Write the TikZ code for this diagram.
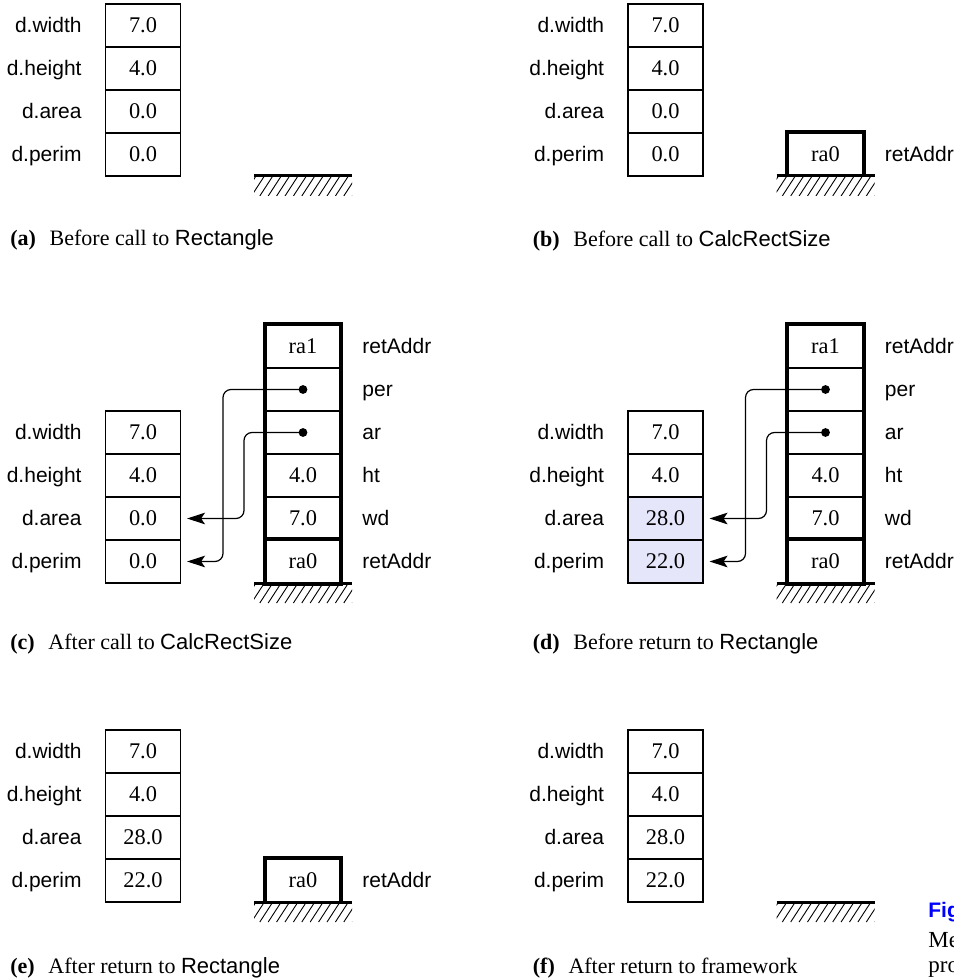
\documentclass[tikz,border=0pt]{standalone}
\usepackage{fontspec}
\setmainfont{Liberation Serif}
\setsansfont{Liberation Sans}
\usetikzlibrary{arrows.meta,calc}
\definecolor{updated}{RGB}{230,230,250}
\definecolor{figblue}{RGB}{0,0,255}
\tikzset{
  cell/.style={draw, line width=0.55pt, minimum width=37.5pt, minimum height=21.5pt,
    inner sep=0pt, font=\fontsize{11.2}{13}\selectfont},
  newcell/.style={cell, fill=updated},
  lbl/.style={inner sep=0pt, font=\sffamily\fontsize{10.5}{12}\selectfont},
  lbll/.style={lbl, anchor=base east},
  lblr/.style={lbl, anchor=base west},
  frame/.style={line width=2pt},
  groundline/.style={line width=1.5pt},
  hatchline/.style={line width=0.45pt},
  ptr/.style={line width=0.6pt, rounded corners=4pt,
    -{Stealth[length=9pt,width=5.8pt,inset=2pt]}, shorten >=3pt},
  capt/.style={anchor=base west, inner sep=0pt, font=\fontsize{11}{13}\selectfont},
}
% ground symbol: thick line with hatching underneath (x-centre, y)
\newcommand\drawground[2]{%
  \draw[groundline] (#1-49,#2) -- (#1+49,#2);
  \begin{scope}
    \clip (#1-49,#2+1) rectangle (#1+49,#2+20);
    \foreach \k in {0,...,14} \draw[hatchline] (#1-47+8.4*\k,#2) -- ++(-13,20);
  \end{scope}}
% data record column: prefix, x-centre, y-centre of first row, three values
\newcommand\datacol[6]{%
  \foreach \nm/\lab/\val [count=\i from 0] in
      {w/d.width/#4, h/d.height/#5, ar/d.area/#6}{
    \node[cell] (#1-\nm) at (#2, #3+43*\i) {\val};
    \node[lbll] (#1-\nm-l) at ([xshift=-11.5pt]#1-\nm.base west) {\lab};
  }}
\begin{document}
\begin{tikzpicture}[x={(0.5pt,0)}, y={(0,-0.5pt)}]
\useasboundingbox (0,0) rectangle (953,978);
\clip (0,0) rectangle (953,978);

% ---------------- (a) ----------------
\datacol{a}{143}{25.5}{7.0}{4.0}{0.0}
\node[cell] (a-pe) at (143,154.5) {0.0};
\node[lbll] (a-pe-l) at ([xshift=-11.5pt]a-pe.base west) {d.perim};
\drawground{303}{176}
\node[capt] (cap-a) at (10,246) {\textbf{(a)}\hspace{0.62em}Before call to \textsf{Rectangle}};

% ---------------- (b) ----------------
\datacol{b}{665.5}{25.5}{7.0}{4.0}{0.0}
\node[cell] (b-pe) at (665.5,154.5) {0.0};
\node[lbll] (b-pe-l) at ([xshift=-11.5pt]b-pe.base west) {d.perim};
\node[cell] (b-ra0) at (825.5,154.5) {ra0};
\node[lblr] (b-ra0-l) at ([xshift=10.5pt]b-ra0.base east) {retAddr};
\draw[frame] (b-ra0.south west) -- (b-ra0.north west) -- (b-ra0.north east) -- (b-ra0.south east);
\drawground{825.5}{176}
\node[capt] (cap-b) at (532.5,247) {\textbf{(b)}\hspace{0.62em}Before call to \textsf{CalcRectSize}};

% ---------------- (c) ----------------
\datacol{c}{143}{432.5}{7.0}{4.0}{0.0}
\node[cell] (c-pe) at (143,561.5) {0.0};
\node[lbll] (c-pe-l) at ([xshift=-11.5pt]c-pe.base west) {d.perim};
\foreach \nm/\val/\lab [count=\i from 0] in
    {ra1/ra1/retAddr, per/\phantom{0}/per, arp/\phantom{0}/ar, ht/4.0/ht, wd/7.0/wd, ra0/ra0/retAddr}{
  \node[cell] (c-\nm) at (303, 346.5+43*\i) {\val};
  \node[lblr] (c-\nm-l) at ([xshift=10.5pt]c-\nm.base east) {\lab};
}
\draw[frame] (c-ra1.north west) rectangle (c-ra0.south east);
\draw[frame] (c-ra0.north west) -- (c-ra0.north east);
\drawground{303}{583}
\coordinate (c-via1) at (223,0);
\coordinate (c-via2) at (244,0);
\draw[ptr] (c-per.center) -- (c-per.center -| c-via1) |- (c-pe.east);
\draw[ptr] (c-arp.center) -- (c-arp.center -| c-via2) |- (c-ar.east);
\fill (c-per.center) circle (2.2pt);
\fill (c-arp.center) circle (2.2pt);
\node[capt] (cap-c) at (10,649) {\textbf{(c)}\hspace{0.62em}After call to \textsf{CalcRectSize}};

% ---------------- (d) ----------------
\foreach \nm/\lab/\val [count=\i from 0] in {w/d.width/7.0, h/d.height/4.0}{
  \node[cell] (d-\nm) at (665.5, 432.5+43*\i) {\val};
  \node[lbll] (d-\nm-l) at ([xshift=-11.5pt]d-\nm.base west) {\lab};
}
\node[newcell] (d-ar) at (665.5,518.5) {28.0};
\node[lbll] (d-ar-l) at ([xshift=-11.5pt]d-ar.base west) {d.area};
\node[newcell] (d-pe) at (665.5,561.5) {22.0};
\node[lbll] (d-pe-l) at ([xshift=-11.5pt]d-pe.base west) {d.perim};
\foreach \nm/\val/\lab [count=\i from 0] in
    {ra1/ra1/retAddr, per/\phantom{0}/per, arp/\phantom{0}/ar, ht/4.0/ht, wd/7.0/wd, ra0/ra0/retAddr}{
  \node[cell] (d-\nm) at (825.5, 346.5+43*\i) {\val};
  \node[lblr] (d-\nm-l) at ([xshift=10.5pt]d-\nm.base east) {\lab};
}
\draw[frame] (d-ra1.north west) rectangle (d-ra0.south east);
\draw[frame] (d-ra0.north west) -- (d-ra0.north east);
\drawground{825.5}{583}
\coordinate (d-via1) at (745.5,0);
\coordinate (d-via2) at (766.5,0);
\draw[ptr] (d-per.center) -- (d-per.center -| d-via1) |- (d-pe.east);
\draw[ptr] (d-arp.center) -- (d-arp.center -| d-via2) |- (d-ar.east);
\fill (d-per.center) circle (2.2pt);
\fill (d-arp.center) circle (2.2pt);
\node[capt] (cap-d) at (532.5,649) {\textbf{(d)}\hspace{0.62em}Before return to \textsf{Rectangle}};

% ---------------- (e) ----------------
\datacol{e}{143}{751.5}{7.0}{4.0}{28.0}
\node[cell] (e-pe) at (143,880.5) {22.0};
\node[lbll] (e-pe-l) at ([xshift=-11.5pt]e-pe.base west) {d.perim};
\node[cell] (e-ra0) at (303,880.5) {ra0};
\node[lblr] (e-ra0-l) at ([xshift=10.5pt]e-ra0.base east) {retAddr};
\draw[frame] (e-ra0.south west) -- (e-ra0.north west) -- (e-ra0.north east) -- (e-ra0.south east);
\drawground{303}{902}
\node[capt] (cap-e) at (10,973) {\textbf{(e)}\hspace{0.62em}After return to \textsf{Rectangle}};

% ---------------- (f) ----------------
\datacol{f}{665.5}{751.5}{7.0}{4.0}{28.0}
\node[cell] (f-pe) at (665.5,880.5) {22.0};
\node[lbll] (f-pe-l) at ([xshift=-11.5pt]f-pe.base west) {d.perim};
\drawground{825.5}{902}
\node[capt] (cap-f) at (532.5,973) {\textbf{(f)}\hspace{0.62em}After return to framework};

% ---------------- figure caption (runs off the right edge) ----------------
\node[anchor=base west, inner sep=0pt, text=figblue,
      font=\sffamily\bfseries\fontsize{10.5}{12}\selectfont] (fig-tag) at (928,917) {Fig};
\node[anchor=base west, inner sep=0pt, font=\fontsize{11.5}{13}\selectfont] (fig-l1) at (928,947) {Me};
\node[anchor=base west, inner sep=0pt, font=\fontsize{11.5}{13}\selectfont] (fig-l2) at (928,972) {pro};
\end{tikzpicture}
\end{document}
